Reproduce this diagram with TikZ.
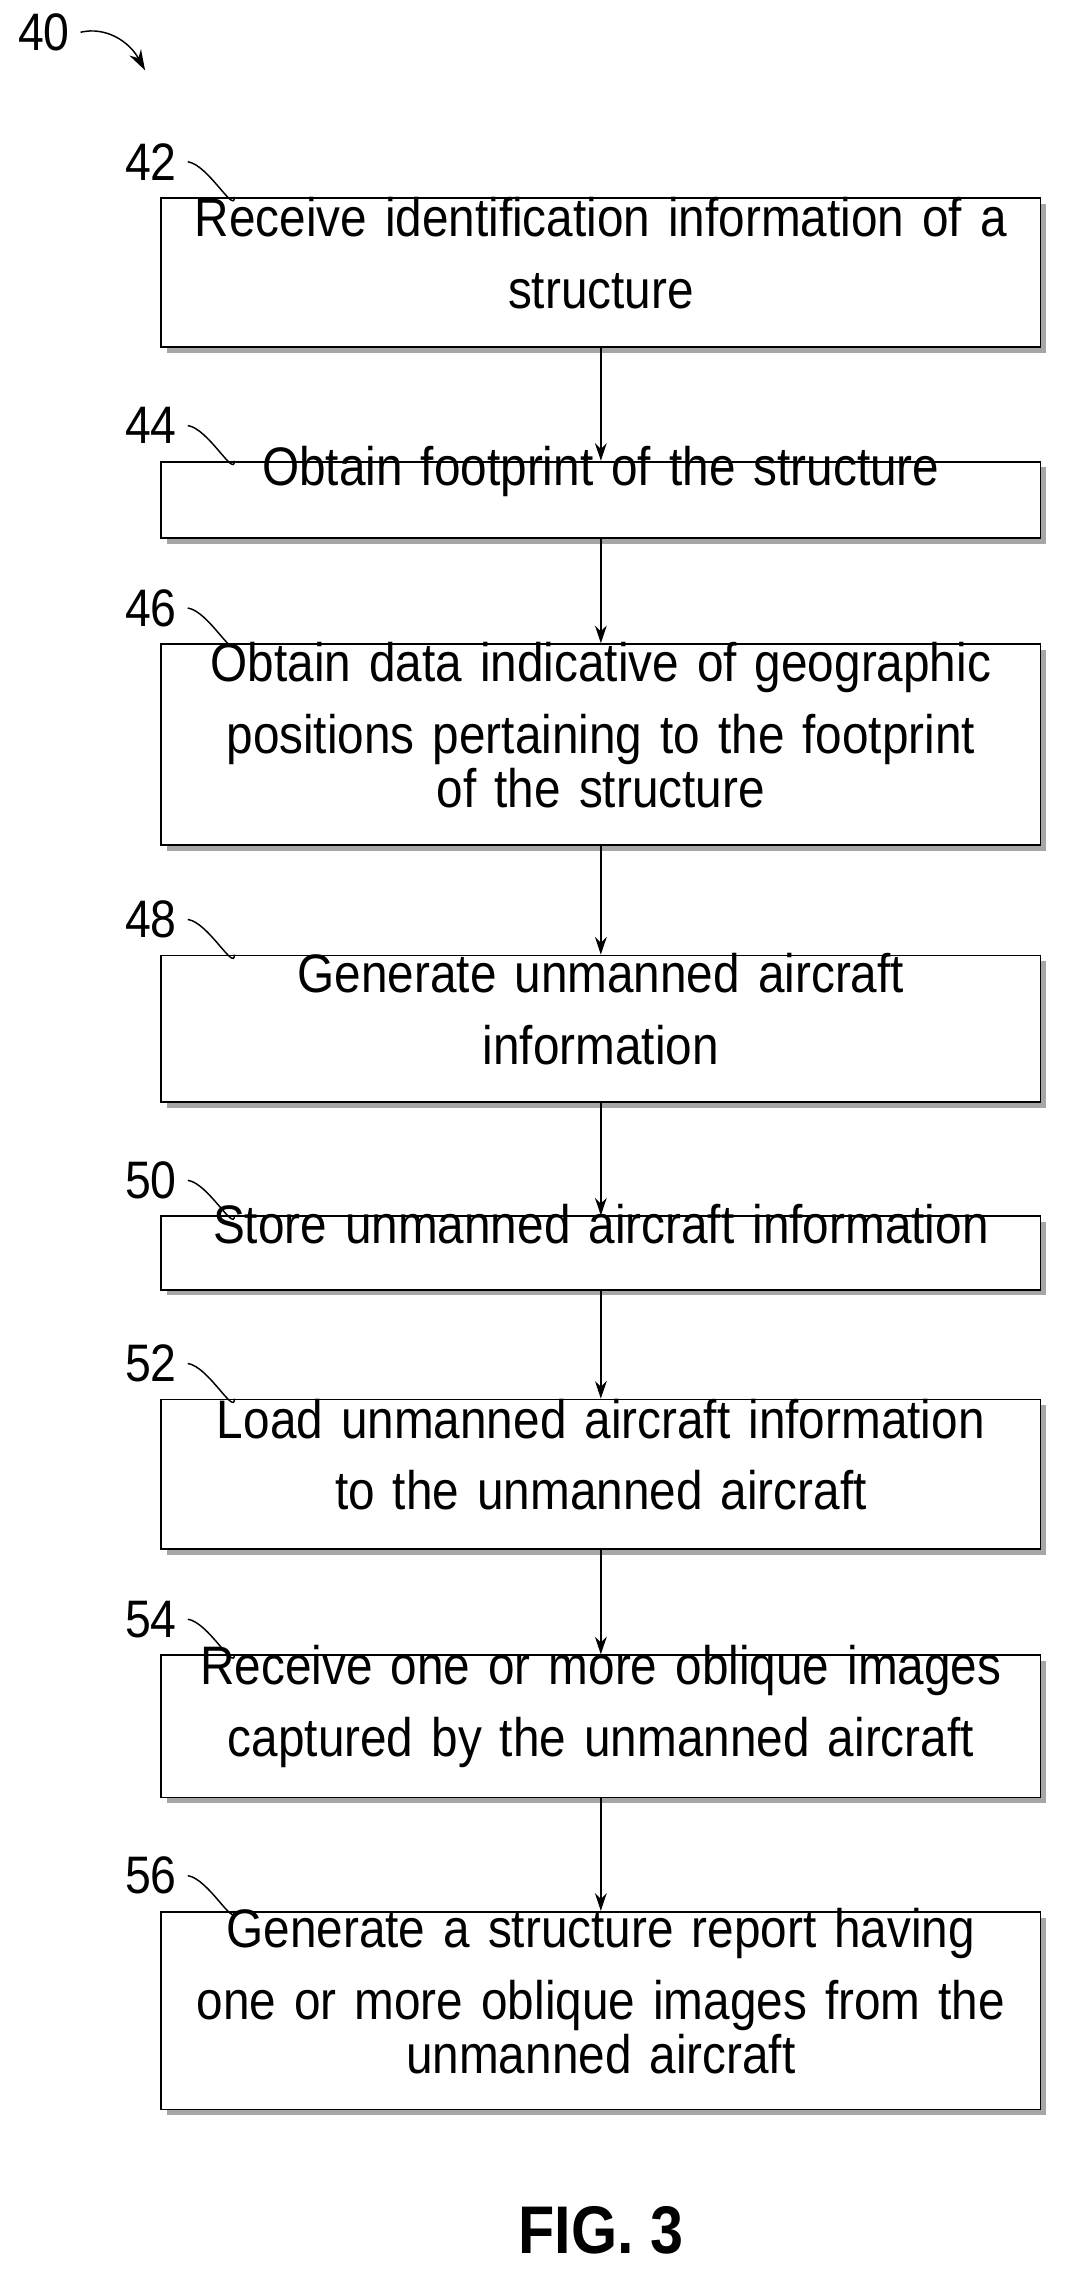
\documentclass[tikz,border=0pt]{standalone}
\usepackage{fontspec}
\setmainfont{Liberation Sans}[FakeStretch=0.88]
\usetikzlibrary{shadows,arrows.meta}
\begin{document}
\begin{tikzpicture}[x=1pt,y=-1pt,
  stepbox/.style={draw,line width=1.2pt,fill=white,text width=590pt,align=center,
    minimum width=600pt,inner sep=0pt,font=\fontsize{37}{37}\selectfont,
    execute at begin node={\vspace*{12pt}},
    drop shadow={shadow xshift=4pt,shadow yshift=-4pt,fill=gray!70,opacity=1}},
  ref/.style={font=\fontsize{36}{36}\selectfont},
  flow/.style={-{Stealth[length=12pt,width=8pt]},line width=1.2pt}]
\useasboundingbox (0,0) rectangle (733,1564);

% reference label of the figure
\node[ref] (n40) at (30,22) {40};
\draw[-{Stealth[length=14pt,width=9pt]},line width=1pt] (55,22) .. controls (72,18) and (88,28) .. (99,48);

% steps
\foreach \name/\yc/\ht/\txt in {
  s42/186/102/{Receive identification information of a\\structure},
  s44/341/52/{Obtain footprint of the structure},
  s46/508/137/{Obtain data indicative of geographic\\positions pertaining to the footprint\\of the structure},
  s48/702/100/{Generate unmanned aircraft\\information},
  s50/855/50/{Store unmanned aircraft information},
  s52/1006/102/{Load unmanned aircraft information\\to the unmanned aircraft},
  s54/1178/97/{Receive one or more oblique images\\captured by the unmanned aircraft},
  s56/1372/135/{Generate a structure report having\\one or more oblique images from the\\unmanned aircraft}}
{
  \node[stepbox,minimum height=\ht pt] (\name) at (410,\yc) {\txt};
}

% step numbers
\foreach \name/\num in {s42/42,s44/44,s46/46,s48/48,s50/50,s52/52,s54/54,s56/56}
{
  \node[ref] (l\num) at ([xshift=-307pt,yshift=24pt]\name.north) {\num};
  \draw[line width=1pt] ([xshift=4pt]l\num.east) .. controls +(14pt,-2pt) and +(0pt,-12pt) .. ([xshift=-250pt]\name.north);
}

% connectors
\foreach \a/\b in {s42/s44,s44/s46,s46/s48,s48/s50,s50/s52,s52/s54,s54/s56}
  \draw[flow] (\a) -- (\b);

\node[font=\bfseries\fontsize{46}{46}\selectfont] (fig) at (410,1522) {FIG. 3};
\end{tikzpicture}
\end{document}
